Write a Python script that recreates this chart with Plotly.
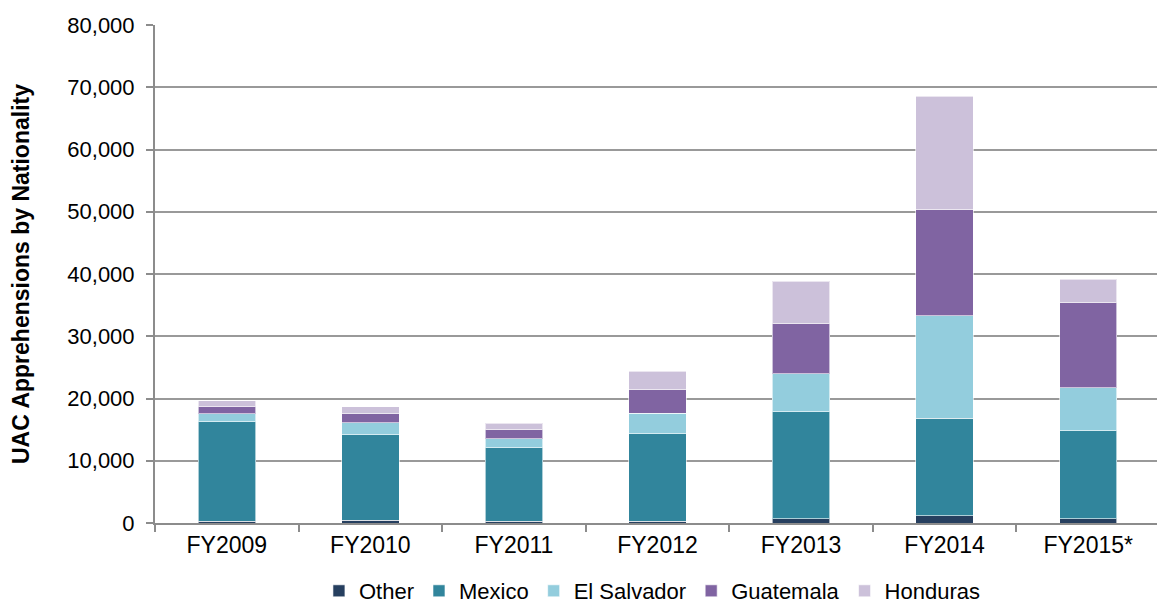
import plotly.graph_objects as go

years = ["FY2009", "FY2010", "FY2011", "FY2012", "FY2013", "FY2014", "FY2015*"]
other = [250, 450, 250, 300, 700, 1200, 700]
mexico = [16050, 13750, 11850, 14000, 17150, 15600, 14090]
el_salvador = [1250, 1900, 1400, 3330, 6100, 16500, 6910]
guatemala = [1100, 1520, 1520, 3760, 8050, 17000, 13720]
honduras = [1000, 1050, 1000, 3000, 6800, 18250, 3760]

series = [
    ("Other", other, "#263F5F"),
    ("Mexico", mexico, "#31859C"),
    ("El Salvador", el_salvador, "#93CDDD"),
    ("Guatemala", guatemala, "#8064A2"),
    ("Honduras", honduras, "#CCC1DA"),
]

fig = go.Figure()
for name, vals, color in series:
    fig.add_trace(go.Bar(
        x=years, y=vals, name=name,
        marker=dict(color=color, line=dict(color="rgba(255,255,255,0.6)", width=1)),
    ))

fig.update_layout(
    barmode="stack",
    bargap=0.6,
    width=1157, height=604,
    margin=dict(l=147, r=5, t=17, b=89),
    plot_bgcolor="white", paper_bgcolor="white",
    font=dict(family="Liberation Sans, Arial, sans-serif", size=22, color="black"),
    legend=dict(orientation="h", x=0.557, xanchor="center", xref="container",
                y=0.0, yanchor="bottom", yref="container",
                font=dict(size=22), traceorder="normal", itemwidth=30),
    xaxis=dict(
        showline=True, linecolor="#8c8c8c", linewidth=2,
        ticks="outside", tickson="boundaries", ticklen=7, tickcolor="#8c8c8c", tickwidth=2,
        tickfont=dict(size=23), automargin=False,
    ),
    yaxis=dict(
        range=[0, 80000], dtick=10000, tickformat=",d",
        showgrid=True, gridcolor="#999999", gridwidth=1.5,
        showline=True, linecolor="#8c8c8c", linewidth=2,
        ticks="outside", ticklen=7, tickcolor="#8c8c8c", tickwidth=2,
        tickfont=dict(size=22), automargin=False, ticklabelstandoff=7,
        title=dict(text="<b>UAC Apprehensions by Nationality</b>", font=dict(size=23), standoff=31),
        zeroline=False,
    ),
)

fig.write_html("out.html")
